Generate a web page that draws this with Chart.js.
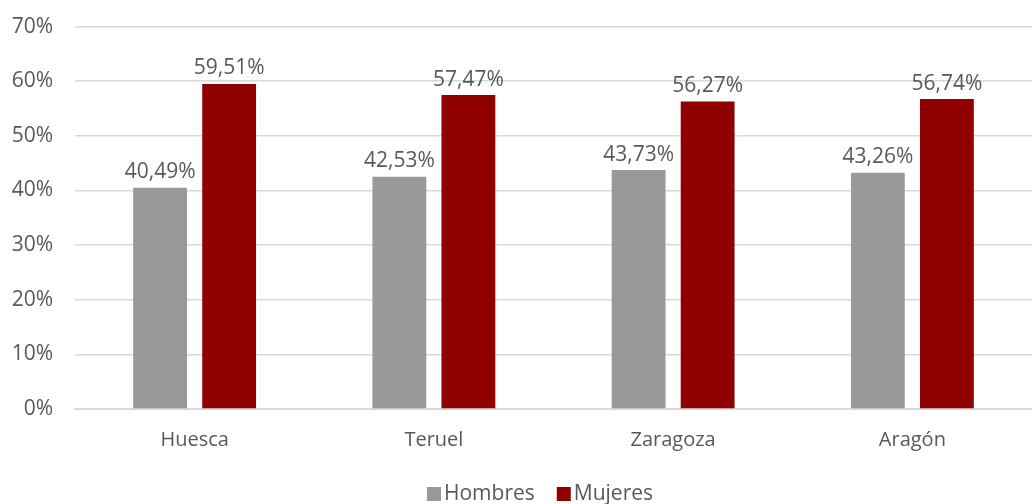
<!DOCTYPE html>
<html>
<head>
<meta charset="utf-8">
<script src="https://cdn.jsdelivr.net/npm/chart.js@4"></script>
<style>
  html, body { margin: 0; padding: 0; background: #fff; overflow: hidden; }
  #wrap { width: 1032px; height: 524px; margin-top: -8px; }
</style>
</head>
<body>
<div id="wrap"><canvas id="chart"></canvas></div>
<script>
const categories = ['Huesca', 'Teruel', 'Zaragoza', 'Aragón'];
const hombres = [40.49, 42.53, 43.73, 43.26];
const mujeres = [59.51, 57.47, 56.27, 56.74];
const yTicks = [0, 10, 20, 30, 40, 50, 60, 70];

const FONT = "'Open Sans', 'Liberation Sans', sans-serif";
const TEXT = '#595959';

// etiquetas encima de cada barra, con coma decimal
const barLabels = {
  id: 'barLabels',
  afterDatasetsDraw(chart) {
    const ctx = chart.ctx;
    ctx.save();
    ctx.font = '21px ' + FONT;
    ctx.fillStyle = TEXT;
    ctx.textAlign = 'center';
    ctx.textBaseline = 'bottom';
    chart.data.datasets.forEach((ds, i) => {
      chart.getDatasetMeta(i).data.forEach((bar, j) => {
        const txt = ds.data[j].toFixed(2).replace('.', ',') + '%';
        ctx.fillText(txt, bar.x, bar.y - 5);
      });
    });
    ctx.restore();
  }
};

// leyenda abajo, cuadro pegado al texto como en Excel
const bottomLegend = {
  id: 'bottomLegend',
  afterDraw(chart) {
    const ctx = chart.ctx;
    ctx.save();
    ctx.font = '21px ' + FONT;
    ctx.textBaseline = 'middle';
    const box = 14, gap = 3, spacing = 22;
    const items = chart.data.datasets.map(ds => ({
      text: ds.label, color: ds.backgroundColor, w: ctx.measureText(ds.label).width
    }));
    const total = items.reduce((s, it) => s + box + gap + it.w, 0) + spacing * (items.length - 1);
    let x = chart.width / 2 + 24 - total / 2;
    const y = chart.height - 22;
    items.forEach(it => {
      ctx.fillStyle = it.color;
      ctx.fillRect(x, y - box / 2, box, box);
      x += box + gap;
      ctx.fillStyle = TEXT;
      ctx.fillText(it.text, x, y);
      x += it.w + spacing;
    });
    ctx.restore();
  }
};

new Chart(document.getElementById('chart'), {
  type: 'bar',
  data: {
    labels: categories,
    datasets: [
      { label: 'Hombres', data: hombres, backgroundColor: '#999999' },
      { label: 'Mujeres', data: mujeres, backgroundColor: '#900000' }
    ]
  },
  options: {
    responsive: true,
    maintainAspectRatio: false,
    animation: false,
    categoryPercentage: 0.577,
    barPercentage: 0.78,
    layout: { padding: { top: 3, left: 0, right: 0, bottom: 42 } },
    plugins: {
      legend: { display: false },
      tooltip: { enabled: false }
    },
    scales: {
      x: {
        afterFit(axis) { axis.height += 3; },
        grid: { display: false, drawTicks: false },
        border: { display: true, color: '#d9d9d9', width: 2 },
        ticks: { color: TEXT, font: { family: FONT, size: 20 }, padding: 19 }
      },
      y: {
        min: 0,
        max: 70,
        afterBuildTicks(axis) { axis.ticks = yTicks.map(v => ({ value: v })); },
        afterFit(axis) { axis.width = 75; },
        grid: { color: '#d9d9d9', lineWidth: 1.5, drawTicks: false },
        border: { display: false },
        ticks: {
          color: TEXT,
          font: { family: FONT, size: 21 },
          padding: 22,
          callback: v => v + '%'
        }
      }
    }
  },
  plugins: [barLabels, bottomLegend]
});
</script>
</body>
</html>
